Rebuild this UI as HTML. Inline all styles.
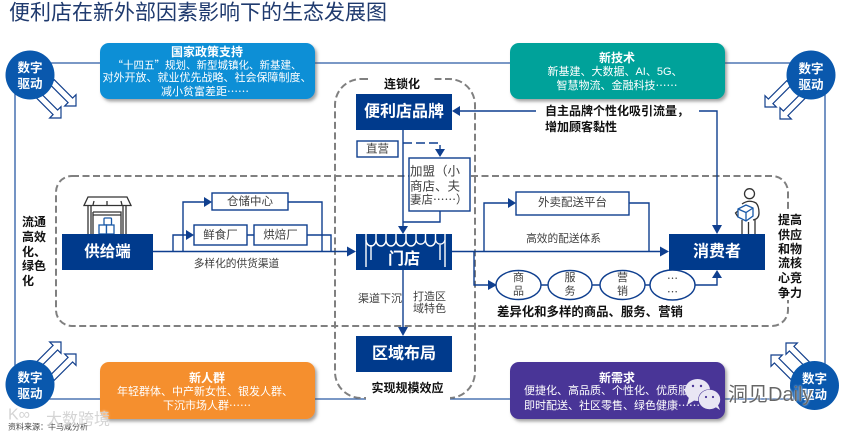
<!DOCTYPE html>
<html><head><meta charset="utf-8">
<style>
html,body{margin:0;padding:0;background:#fff;width:846px;height:435px;overflow:hidden}
svg{display:block}
text{font-family:"Liberation Sans","Noto Sans CJK SC",sans-serif;dominant-baseline:central}
text.c{font-family:"Noto Sans CJK SC","Liberation Sans",sans-serif}
.m{text-anchor:middle}
.w{fill:#fff}
.b{font-weight:700}
.l{fill:none;stroke:#0f3f8f;stroke-width:1.4}
.box{fill:#fff;stroke:#0f3f8f;stroke-width:1.4}
.n{fill:#003a8c}
.ar{fill:#fff;stroke:#123f8c;stroke-width:1.2}
.ah{fill:#0f3f8f}
.d{fill:none;stroke:#808080;stroke-width:2;stroke-dasharray:7 3.5}
</style></head><body>
<svg width="846" height="435" viewBox="0 0 846 435" xmlns="http://www.w3.org/2000/svg">
<defs>
<filter id="s" x="-5%" y="-10%" width="112%" height="125%"><feDropShadow dx="2" dy="2.5" stdDeviation="1.6" flood-color="#555" flood-opacity=".55"/></filter>
<filter id="g" x="-10%" y="-20%" width="120%" height="140%"><feDropShadow dx="0" dy="0" stdDeviation="1" flood-color="#fff" flood-opacity="1"/></filter>
</defs>
<text x="9" y="13" font-size="21" fill="#1f3a6e">便利店在新外部因素影响下的生态发展图</text>

<!-- outer frame -->
<path d="M30 63H811M15 75V385M30 399H814M825 75V385" fill="none" stroke="#2a5aa5" stroke-width="1.3"/>

<!-- dashed -->
<rect x="56" y="176" width="732" height="150" rx="16" class="d"/>
<rect x="335" y="79" width="140" height="319" rx="26" class="d"/>
<rect x="368" y="76" width="64" height="14" fill="#fff"/>
<rect x="366" y="381" width="84" height="19" fill="#fff"/>
<rect x="776" y="212" width="28" height="88" fill="#fff"/>

<!-- hollow arrows -->
<g class="ar">
<polygon transform="translate(76 106) rotate(45)" points="-34,-3.2 -8,-3.2 -8,-8 0,0 -8,8 -8,3.2 -34,3.2"/>
<polygon transform="translate(61 118) rotate(45)" points="-34,-3.2 -8,-3.2 -8,-8 0,0 -8,8 -8,3.2 -34,3.2"/>
<polygon transform="translate(765 107) rotate(135)" points="-34,-3.2 -8,-3.2 -8,-8 0,0 -8,8 -8,3.2 -34,3.2"/>
<polygon transform="translate(780 119) rotate(135)" points="-34,-3.2 -8,-3.2 -8,-8 0,0 -8,8 -8,3.2 -34,3.2"/>
<polygon transform="translate(76 354) rotate(-45)" points="-34,-3.2 -8,-3.2 -8,-8 0,0 -8,8 -8,3.2 -34,3.2"/>
<polygon transform="translate(61 342) rotate(-45)" points="-34,-3.2 -8,-3.2 -8,-8 0,0 -8,8 -8,3.2 -34,3.2"/>
<polygon transform="translate(771 355) rotate(-135)" points="-34,-3.2 -8,-3.2 -8,-8 0,0 -8,8 -8,3.2 -34,3.2"/>
<polygon transform="translate(786 343) rotate(-135)" points="-34,-3.2 -8,-3.2 -8,-8 0,0 -8,8 -8,3.2 -34,3.2"/>
</g>

<!-- circles -->
<g fill="#0a58ad">
<circle cx="30" cy="75" r="24.5"/><circle cx="811" cy="75" r="24.5"/>
<circle cx="30" cy="384.5" r="24.5"/><circle cx="814.5" cy="385.5" r="24.5"/>
</g>
<g class="m w b" font-size="12.5">
<text x="30" y="68">数字</text><text x="30" y="84">驱动</text>
<text x="811" y="69">数字</text><text x="811" y="85">驱动</text>
<text x="30" y="378">数字</text><text x="30" y="394">驱动</text>
<text x="814.500" y="379">数字</text><text x="814.500" y="395">驱动</text>
</g>

<!-- coloured cards -->
<rect x="100" y="43" width="215" height="56" rx="9" fill="#0a8fd6" filter="url(#s)"/>
<rect x="510" y="43" width="215" height="56" rx="9" fill="#00a29a" filter="url(#s)"/>
<rect x="100" y="362" width="215" height="57" rx="9" fill="#f58f2f" filter="url(#s)"/>
<rect x="510" y="362" width="215" height="57" rx="9" fill="#4a3597" filter="url(#s)"/>
<g class="m w" font-size="11">
<text x="207" y="52" class="b" font-size="12">国家政策支持</text>
<text x="207" y="65" class="c" font-size="10.500">“十四五”规划、新型城镇化、新基建、</text>
<text x="207" y="78">对外开放、就业优先战略、社会保障制度、</text>
<text x="205" y="91" class="c">减小贫富差距……</text>
<text x="617" y="58" class="b" font-size="12">新技术</text>
<text x="615" y="72">新基建、大数据、AI、5G、</text>
<text x="617" y="85" class="c">智慧物流、金融科技……</text>
<text x="207" y="378" class="b" font-size="12">新人群</text>
<text x="205" y="392">年轻群体、中产新女性、银发人群、</text>
<text x="207" y="405" class="c">下沉市场人群……</text>
<text x="617" y="378" class="b" font-size="12">新需求</text>
<text x="612" y="391">便捷化、高品质、个性化、优质服务</text>
<text x="612" y="405" class="c">即时配送、社区零售、绿色健康……</text>
</g>

<!-- top connectors -->
<path class="l" d="M459 111H536M699 111H717V226"/>
<polygon class="ah" points="452,111 460,106 460,116"/>
<polygon class="ah" points="717,234 712,225 722,225"/>
<path class="l" d="M403 130V226"/>
<polygon class="ah" points="403,234 398,226 408,226"/>
<path class="l" d="M403 143H440V150" stroke-dasharray="9 4"/>
<polygon class="ah" points="440,157 435,149 445,149"/>
<path class="l" d="M440 211V222H403"/>

<rect x="356" y="94" width="96" height="36" class="n"/>
<text x="404" y="112" class="m w b" font-size="16">便利店品牌</text>
<text x="402" y="84" class="m b" font-size="12" fill="#111">连锁化</text>

<rect x="357" y="141" width="41" height="16" class="box"/>
<text x="377.500" y="149.500" class="m" font-size="11.500" fill="#404040">直营</text>
<rect x="409" y="158" width="61" height="53" class="box"/>
<g font-size="12.500" fill="#404040">
<text x="410" y="170" class="c">加盟（小</text>
<text x="410" y="185" class="c">商店、夫</text>
<text x="410" y="199.500" class="c" font-size="11.500">妻店……）</text>
</g>

<text x="545" y="111" class="b" font-size="12" fill="#111">自主品牌个性化吸引流量，</text>
<text x="545" y="127" class="b" font-size="12" fill="#111">增加顾客黏性</text>

<!-- supply side -->
<path class="l" d="M153 251.500H349M173 251.500V235H187M183 251.500V202H205M288 202H322V251.500M307 235H331V251.500M247 235H254"/>
<polygon class="ah" points="356,251.500 347,246.500 347,256.500"/>
<polygon class="ah" points="194,235 186,230 186,240"/>
<polygon class="ah" points="212,202 204,197 204,207"/>
<rect x="212" y="193" width="76" height="17" class="box"/>
<text x="250" y="202" class="m" font-size="11.500" fill="#404040">仓储中心</text>
<rect x="194" y="225" width="53" height="20" class="box"/>
<rect x="254" y="225" width="53" height="20" class="box"/>
<text x="220.500" y="235.500" class="m" font-size="11.500" fill="#404040">鲜食厂</text>
<text x="280.500" y="235.500" class="m" font-size="11.500" fill="#404040">烘焙厂</text>
<text x="236.500" y="264" class="m" font-size="10.700" fill="#404040">多样化的供货渠道</text>

<!-- store icon -->
<g fill="none" stroke="#333" stroke-width="1.300">
<path d="M88 197H127L131 205.500H84Z"/>
<path d="M94 201L93 205M107 201V205M121 201L122 205"/>
<path d="M88 206V234M91 206V234M123 206V234M126 206V234"/>
<path d="M93 212H121V234M93 212V234M93 215H121"/>
</g>
<g fill="#fff" stroke="#1b5aa8" stroke-width="1.300">
<rect x="104" y="218" width="7.500" height="7" rx="1"/>
<rect x="99" y="225" width="7.500" height="9"/>
<rect x="106.500" y="225" width="7.500" height="9"/>
</g>
<rect x="62" y="234" width="91" height="36" class="n"/>
<text x="107.500" y="252" class="m w b" font-size="15.500">供给端</text>

<g class="b" font-size="12" fill="#111">
<text x="22" y="222">流通</text>
<text x="22" y="237">高效</text>
<text x="22" y="252">化、</text>
<text x="22" y="266">绿色</text>
<text x="22" y="281">化</text>
</g>

<!-- store -->
<path class="l" d="M403 270V329"/>
<polygon class="ah" points="403,336 398,327 408,327"/>
<rect x="356" y="234" width="96" height="36" class="n"/>
<g fill="none" stroke="#fff" stroke-width="1.400">
<path d="M366 234V267M445 234V267M371 245V260M440 245V260"/>
<path d="M366 240a5 6 0 0 0 10 0a5 6 0 0 0 10 0a5 6 0 0 0 10 0a5 6 0 0 0 10 0a5 6 0 0 0 10 0a5 6 0 0 0 9.500 0a5 6 0 0 0 10 0a5 6 0 0 0 9.500 0"/>
<path d="M376 234V240M386 234V240M396 234V240M406 234V240M416 234V240M425.500 234V240M435.500 234V240"/>
</g>
<text x="404" y="259.500" class="m w b" font-size="16">门店</text>
<text x="358" y="299" font-size="11" fill="#404040">渠道下沉</text>
<text x="413" y="297" font-size="11" fill="#404040">打造区</text>
<text x="413" y="309" font-size="11" fill="#404040">域特色</text>
<rect x="356" y="336" width="96" height="36" class="n"/>
<text x="404" y="354" class="m w b" font-size="16">区域布局</text>
<text x="407.500" y="388" class="m b" font-size="12" fill="#111">实现规模效应</text>

<!-- right side -->
<path class="l" d="M452 251.500H661M484 251.500V203H509M629 203H649V251.500M474 251.500V285H489"/>
<polygon class="ah" points="669,251.500 660,246.500 660,256.500"/>
<polygon class="ah" points="516,203 508,198 508,208"/>
<polygon class="ah" points="497,285 488,280 488,290"/>
<rect x="516" y="192" width="113" height="23" class="box"/>
<text x="572.500" y="203" class="m" font-size="11.500" fill="#404040">外卖配送平台</text>
<text x="563.500" y="239" class="m" font-size="10.700" fill="#404040">高效的配送体系</text>
<path class="l" d="M541 285H548M592 285H600M645 285H650M695 285H717V277"/>
<polygon class="ah" points="717,270 712,278 722,278"/>
<g class="box">
<ellipse cx="518.500" cy="285" rx="22.500" ry="14.500"/>
<ellipse cx="570" cy="285" rx="22" ry="14.500"/>
<ellipse cx="622.500" cy="285" rx="22.500" ry="14.500"/>
<ellipse cx="672.500" cy="285" rx="22.500" ry="15"/>
</g>
<g class="m" font-size="11" fill="#404040">
<text x="518.500" y="278">商</text><text x="518.500" y="291.500">品</text>
<text x="570" y="278">服</text><text x="570" y="291.500">务</text>
<text x="622.500" y="278">营</text><text x="622.500" y="291.500">销</text>
<text x="672.500" y="278" class="c">…</text><text x="672.500" y="291.500" class="c">…</text>
</g>
<text x="497" y="312" class="b" font-size="12.400" fill="#111">差异化和多样的商品、服务、营销</text>

<!-- person -->
<g fill="none" stroke="#333" stroke-width="1.300">
<circle cx="749.500" cy="193.700" r="5"/>
<path d="M742 234V220M755 234V220M748.500 234V222"/>
<path d="M742 204Q749 199 756 203Q759 206 759 213Q759 219 753 220"/>
<path d="M739 210L735.500 213L738 217"/>
</g>
<g fill="#fff" stroke="#1b5aa8" stroke-width="1.300">
<path d="M738 209L746 205L753 208V216L746 221L738 217Z"/>
<path d="M738 209L746 212.500L753 208M746 212.500V221" fill="none"/>
</g>
<rect x="669" y="234" width="96" height="36" class="n"/>
<text x="717" y="252" class="m w b" font-size="16">消费者</text>
<g class="b" font-size="12" fill="#111">
<text x="778" y="220">提高</text>
<text x="778" y="235">供应</text>
<text x="778" y="249">和物</text>
<text x="778" y="263">流核</text>
<text x="778" y="278">心竞</text>
<text x="778" y="293">争力</text>
</g>

<!-- footer & watermarks -->
<text x="8" y="427" font-size="8" fill="#444">资料来源：牛马咸分析</text>
<text x="8" y="415" font-size="16" fill="#d4d4d4" filter="url(#g)">K∞</text>
<text x="46" y="420" font-size="16" fill="#cfcfcf" fill-opacity=".9" filter="url(#g)">大数跨境</text>
<g fill="#e9e6f4">
<ellipse cx="697.500" cy="390" rx="12.500" ry="11"/>
<polygon points="689,397 687,405 695,400"/>
</g>
<ellipse cx="709.500" cy="399.500" rx="11" ry="10" fill="#e9e6f4" stroke="#4a3597" stroke-width=".6"/>
<polygon points="714,406 720,410 717,403" fill="#e9e6f4"/>
<g fill="#4a3597">
<circle cx="693" cy="386" r="1.200"/><circle cx="701" cy="386" r="1.200"/>
<circle cx="706" cy="397" r="1.100"/><circle cx="713" cy="397" r="1.100"/>
</g>
<text x="728" y="395" font-size="20" fill="#666" filter="url(#g)">洞见Daily</text>
</svg>
</body></html>
